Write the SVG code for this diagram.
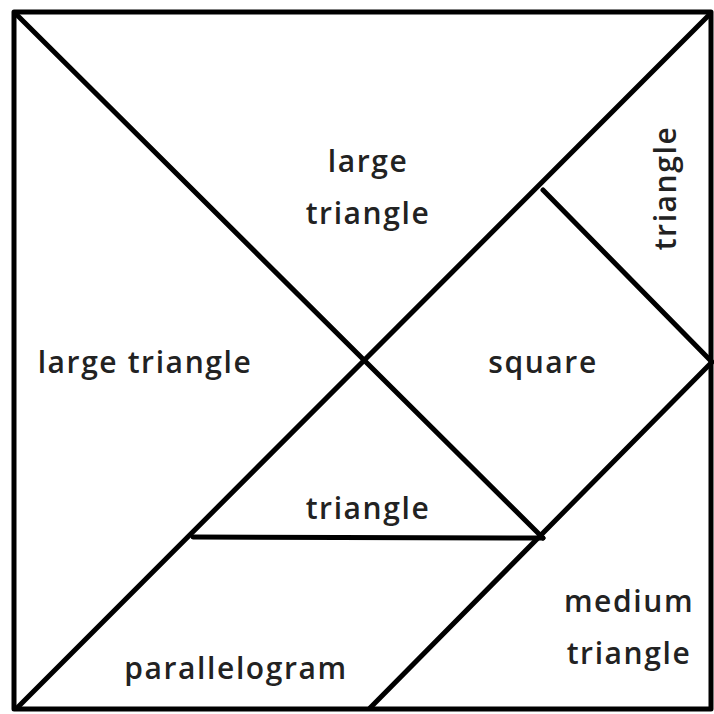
<svg xmlns="http://www.w3.org/2000/svg" width="714" height="714" viewBox="0 0 714 714">
<style>
.e{stroke:#000;stroke-width:5;fill:none;stroke-linecap:round;stroke-linejoin:round}
.t{font-family:"Open Sans","Liberation Sans",sans-serif;font-weight:600;font-size:30px;letter-spacing:1.6px;fill:#222;text-anchor:middle}
</style>
<rect width="714" height="714" fill="#fff"/>
<g id="connectors">
<rect x="14" y="12" width="697" height="697" class="e"/>
<path class="e" d="M16 14 L543 538"/>
<path class="e" d="M17 708 L710 14"/>
<path class="e" d="M543 190 L712 362 L370 708"/>
<path class="e" d="M193 537 L543 538"/>
</g>
<g id="large-triangle-top"><text class="t" x="368" y="172">large</text><text class="t" x="368" y="224">triangle</text></g>
<g id="large-triangle-left"><text class="t" x="145" y="373">large triangle</text></g>
<g id="square"><text class="t" x="543" y="373">square</text></g>
<g id="small-triangle-center"><text class="t" x="368" y="519">triangle</text></g>
<g id="small-triangle-right"><text class="t" transform="translate(676 188) rotate(-90)" x="0" y="0">triangle</text></g>
<g id="medium-triangle"><text class="t" x="629" y="612">medium</text><text class="t" x="629" y="664">triangle</text></g>
<g id="parallelogram"><text class="t" x="236" y="679">parallelogram</text></g>
</svg>
